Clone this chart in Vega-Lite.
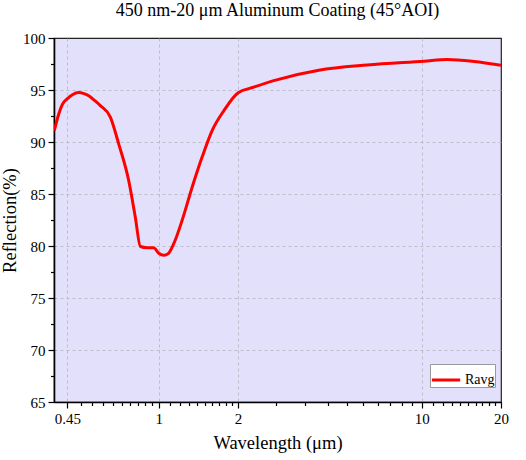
{
  "$schema": "https://vega.github.io/schema/vega-lite/v6.json",
  "autosize": "none",
  "width": 447,
  "height": 364,
  "padding": {"left": 54, "top": 38, "right": 25, "bottom": 58},
  "background": "white",
  "title": {"text": "450 nm-20 μm Aluminum Coating (45°AOI)", "font": "Liberation Serif", "fontSize": 18, "fontWeight": "normal", "color": "black", "offset": 11},
  "config": {
    "view": {"fill": "#E3E0FC", "stroke": "#222222", "strokeWidth": 1.2},
    "axis": {"labelFont": "Liberation Serif", "titleFont": "Liberation Serif", "labelFontSize": 15, "titleFontSize": 18.5, "titleFontWeight": "normal", "labelColor": "black", "titleColor": "black", "domainColor": "black", "domainWidth": 1.6, "tickColor": "black", "tickWidth": 1.2, "gridColor": "#b4b4bc", "gridDash": [3, 3], "gridWidth": 0.8}
  },
  "data": {"values": [
    {"w": 0.401, "r": 91.1, "s": "Ravg"},
    {"w": 0.417, "r": 92.7, "s": "Ravg"},
    {"w": 0.43, "r": 93.6, "s": "Ravg"},
    {"w": 0.449, "r": 94.15, "s": "Ravg"},
    {"w": 0.47, "r": 94.55, "s": "Ravg"},
    {"w": 0.496, "r": 94.75, "s": "Ravg"},
    {"w": 0.52, "r": 94.65, "s": "Ravg"},
    {"w": 0.542, "r": 94.45, "s": "Ravg"},
    {"w": 0.57, "r": 94.0, "s": "Ravg"},
    {"w": 0.6, "r": 93.5, "s": "Ravg"},
    {"w": 0.655, "r": 92.4, "s": "Ravg"},
    {"w": 0.705, "r": 89.8, "s": "Ravg"},
    {"w": 0.769, "r": 86.3, "s": "Ravg"},
    {"w": 0.815, "r": 82.77, "s": "Ravg"},
    {"w": 0.852, "r": 79.95, "s": "Ravg"},
    {"w": 0.903, "r": 79.83, "s": "Ravg"},
    {"w": 0.957, "r": 79.83, "s": "Ravg"},
    {"w": 1.0, "r": 79.3, "s": "Ravg"},
    {"w": 1.045, "r": 79.1, "s": "Ravg"},
    {"w": 1.09, "r": 79.3, "s": "Ravg"},
    {"w": 1.14, "r": 80.2, "s": "Ravg"},
    {"w": 1.227, "r": 82.45, "s": "Ravg"},
    {"w": 1.34, "r": 85.65, "s": "Ravg"},
    {"w": 1.46, "r": 88.5, "s": "Ravg"},
    {"w": 1.596, "r": 91.1, "s": "Ravg"},
    {"w": 1.767, "r": 93.0, "s": "Ravg"},
    {"w": 2.0, "r": 94.72, "s": "Ravg"},
    {"w": 2.297, "r": 95.27, "s": "Ravg"},
    {"w": 2.737, "r": 95.9, "s": "Ravg"},
    {"w": 4.06, "r": 96.9, "s": "Ravg"},
    {"w": 6.2, "r": 97.4, "s": "Ravg"},
    {"w": 10.2, "r": 97.77, "s": "Ravg"},
    {"w": 12.5, "r": 97.93, "s": "Ravg"},
    {"w": 15.8, "r": 97.74, "s": "Ravg"},
    {"w": 20, "r": 97.38, "s": "Ravg"}
  ]},
  "mark": {"type": "line", "strokeWidth": 3, "interpolate": "monotone", "clip": true},
  "encoding": {
    "x": {"field": "w", "type": "quantitative", "scale": {"type": "log", "domain": [0.4, 20], "nice": false},
      "axis": {"title": "Wavelength (μm)", "titlePadding": 7,
        "values": [0.45, 0.505, 0.56, 0.615, 0.67, 0.725, 0.78, 0.835, 0.89, 0.945, 1, 1.1, 1.2, 1.3, 1.4, 1.5, 1.6, 1.7, 1.8, 1.9, 2, 2.8, 3.6, 4.4, 5.2, 6, 6.8, 7.6, 8.4, 9.2, 10, 11, 12, 13, 14, 15, 16, 17, 18, 19, 20],
        "labelExpr": "indexof([0.45, 1, 2, 10, 20], datum.value) >= 0 ? datum.label : ''",
        "tickSize": {"condition": {"test": "indexof([0.45, 1, 2, 10, 20], datum.value) >= 0", "value": 6}, "value": 3.5},
        "gridOpacity": {"condition": {"test": "indexof([0.45, 1, 2, 10], datum.value) >= 0", "value": 1}, "value": 0},
        "labelFlush": false, "labelOverlap": false, "labelPadding": 3}},
    "y": {"field": "r", "type": "quantitative", "scale": {"domain": [65, 100], "nice": false, "zero": false},
      "axis": {"title": "Reflection(%)", "titlePadding": 3,
        "values": [65, 67.5, 70, 72.5, 75, 77.5, 80, 82.5, 85, 87.5, 90, 92.5, 95, 97.5, 100],
        "labelExpr": "datum.value % 5 === 0 ? datum.label : ''",
        "tickSize": {"condition": {"test": "datum.value % 5 === 0", "value": 6}, "value": 3.5},
        "gridOpacity": {"condition": {"test": "datum.value % 5 === 0 && datum.value > 65 && datum.value < 100", "value": 1}, "value": 0},
        "labelFlush": false, "labelOverlap": false, "labelPadding": 3}},
    "color": {"field": "s", "type": "nominal", "scale": {"domain": ["Ravg"], "range": ["#ff0000"]},
      "legend": {"title": null, "orient": "none", "legendX": 376, "legendY": 326, "symbolType": "stroke", "symbolSize": 800, "symbolStrokeWidth": 3, "labelFont": "Liberation Serif", "labelFontSize": 14, "labelColor": "black", "fillColor": "white", "strokeColor": "#999999", "padding": 0, "labelOffset": 3}}
  }
}
